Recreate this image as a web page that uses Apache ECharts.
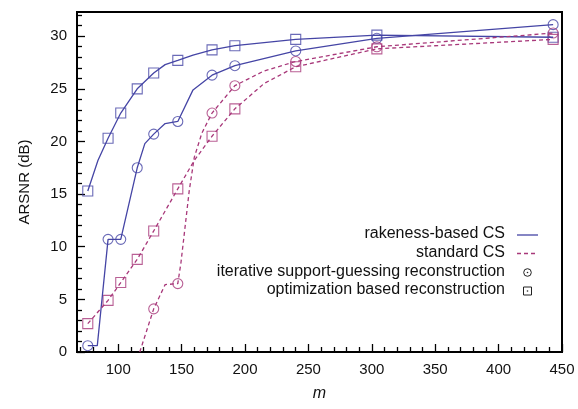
<!DOCTYPE html>
<html>
<head>
<meta charset="utf-8">
<script src="https://cdn.jsdelivr.net/npm/echarts@6/dist/echarts.min.js"></script>
<style>
  html, body { margin: 0; padding: 0; background: #fff; }
  #chart { width: 578px; height: 409px; }
</style>
</head>
<body>
<div id="chart"></div>
<script>
// tick labels
const xTicks = [100, 150, 200, 250, 300, 350, 400, 450];
const xMinorTicks = [70, 80, 90, 110, 120, 130, 140, 160, 170, 180, 190, 210, 220, 230, 240, 260, 270, 280, 290,
  310, 320, 330, 340, 360, 370, 380, 390, 410, 420, 430, 440];
const yTicks = [0, 5, 10, 15, 20, 25, 30];
const yMinorTicks = [1, 2, 3, 4, 6, 7, 8, 9, 11, 12, 13, 14, 16, 17, 18, 19, 21, 22, 23, 24, 26, 27, 28, 29, 31, 32];

// m values where markers sit
const mMarks = [76, 92, 102, 115, 128, 147, 174, 192, 240, 304, 443];
// markers
const rakOptMarks = [15.3, 20.3, 22.7, 25.0, 26.5, 27.7, 28.7, 29.1, 29.7, 30.1, 29.9];
const rakIterMarks = [0.6, 10.7, 10.7, 17.5, 20.7, 21.9, 26.3, 27.2, 28.6, 29.8, 31.1];
const stdOptMarks = [2.7, 4.9, 6.6, 8.8, 11.5, 15.5, 20.5, 23.1, 27.1, 28.8, 29.7];
const stdIterMarks = [null, null, null, null, 4.1, 6.5, 22.7, 25.3, 27.6, 29.0, 30.3];

// curves (denser than the markers)
const rakOptLine = [[76, 15.3], [84, 18.2], [92, 20.3], [102, 22.7], [115, 25.0], [128, 26.5], [137, 27.3],
  [147, 27.7], [159, 28.2], [174, 28.7], [192, 29.1], [240, 29.7], [304, 30.1], [443, 29.9]];
const rakIterLine = [[76, 0.6], [83.5, 0.6], [92, 10.7], [102, 10.7], [115, 17.5], [121, 19.8], [128, 20.7],
  [137, 21.7], [147, 21.9], [159, 24.9], [174, 26.3], [192, 27.2], [240, 28.6], [304, 29.8], [443, 31.1]];
const stdOptLine = [[76, 2.7], [92, 4.9], [102, 6.6], [115, 8.8], [128, 11.5], [147, 15.5], [160, 18.2],
  [174, 20.5], [192, 23.1], [215, 25.5], [240, 27.1], [304, 28.8], [443, 29.7]];
const stdIterLine = [[117, 0], [128, 4.1], [137, 6.4], [147, 6.5], [149.5, 8.5], [156, 15.3], [160, 18.5],
  [166, 20.8], [174, 22.7], [192, 25.3], [215, 26.7], [240, 27.6], [304, 29.0], [443, 30.3]];

const blue = '#4545a5';
const pink = '#a8387a';
const font = 'Liberation Sans, Arial, sans-serif';

function marks(vals) {
  return mMarks.map((m, i) => vals[i] == null ? null : [m, vals[i]]).filter(v => v);
}

const chart = echarts.init(document.getElementById('chart'));

// legend drawn by hand: text right-aligned, sample on the right
const legendRows = [
  { text: 'rakeness-based CS', y: 235 },
  { text: 'standard CS', y: 253.5 },
  { text: 'iterative support-guessing reconstruction', y: 272.5 },
  { text: 'optimization based reconstruction', y: 291 }
];
const graphic = legendRows.map(r => ({
  type: 'text', right: 578 - 505, top: r.y - 9,
  style: { text: r.text, font: '16px ' + font, fill: '#111', textAlign: 'right' }
}));
graphic.push(
  { type: 'line', shape: { x1: 517, y1: 235, x2: 538, y2: 235 }, style: { stroke: blue, lineWidth: 1.3 } },
  { type: 'line', shape: { x1: 517, y1: 253.5, x2: 538, y2: 253.5 }, style: { stroke: pink, lineWidth: 1.3, lineDash: [4, 3] } },
  { type: 'circle', shape: { cx: 527.5, cy: 272.5, r: 3.8 }, style: { fill: 'none', stroke: '#222', lineWidth: 1 } },
  { type: 'circle', shape: { cx: 527.5, cy: 272.5, r: 0.8 }, style: { fill: '#222' } },
  { type: 'rect', shape: { x: 523.5, y: 287, width: 8, height: 8 }, style: { fill: 'none', stroke: '#222', lineWidth: 1 } },
  { type: 'circle', shape: { cx: 527.5, cy: 291, r: 0.8 }, style: { fill: '#222' } }
);

const option = {
  animation: false,
  backgroundColor: '#fff',
  grid: {
    left: 77, right: 16, top: 12, bottom: 57,
    show: true, borderColor: '#000', borderWidth: 2
  },
  xAxis: [{
    type: 'value', min: 67.5, max: 450,
    name: 'm', nameLocation: 'middle', nameGap: 34,
    nameTextStyle: { fontFamily: font, fontSize: 16, fontStyle: 'italic', color: '#111' },
    axisLine: { lineStyle: { color: '#000', width: 2 } },
    axisTick: { inside: true, length: 8, lineStyle: { color: '#000', width: 1.3 }, customValues: xTicks },
    axisLabel: { customValues: xTicks, fontFamily: font, fontSize: 15, color: '#111', margin: 10 },
    splitLine: { show: false }
  }, {
    type: 'value', min: 67.5, max: 450, position: 'bottom',
    axisLine: { show: false },
    axisTick: { inside: true, length: 5, lineStyle: { color: '#000', width: 1.3 }, customValues: xMinorTicks },
    axisLabel: { show: false },
    splitLine: { show: false }
  }],
  yAxis: [{
    type: 'value', min: 0, max: 32.3,
    name: 'ARSNR (dB)', nameLocation: 'middle', nameGap: 45,
    nameTextStyle: { fontFamily: font, fontSize: 15, color: '#111' },
    axisLine: { lineStyle: { color: '#000', width: 2 } },
    axisTick: { inside: true, length: 8, lineStyle: { color: '#000', width: 1.3 }, customValues: yTicks },
    axisLabel: { customValues: yTicks, fontFamily: font, fontSize: 15, color: '#111', margin: 10 },
    splitLine: { show: false }
  }, {
    type: 'value', min: 0, max: 32.3, position: 'left',
    axisLine: { show: false },
    axisTick: { inside: true, length: 5, lineStyle: { color: '#000', width: 1.3 }, customValues: yMinorTicks },
    axisLabel: { show: false },
    splitLine: { show: false }
  }],
  series: [
    { type: 'line', data: rakOptLine, showSymbol: false, lineStyle: { color: blue, width: 1.3 } },
    { type: 'line', data: rakIterLine, showSymbol: false, lineStyle: { color: blue, width: 1.3 } },
    { type: 'line', data: stdOptLine, showSymbol: false, lineStyle: { color: pink, width: 1.3, type: [4, 3] } },
    { type: 'line', data: stdIterLine, showSymbol: false, lineStyle: { color: pink, width: 1.3, type: [4, 3] } },
    { type: 'scatter', data: marks(rakOptMarks), symbol: 'rect', symbolSize: 10,
      itemStyle: { color: 'rgba(0,0,0,0)', borderColor: blue, borderWidth: 1.1 } },
    { type: 'scatter', data: marks(rakIterMarks), symbol: 'circle', symbolSize: 10,
      itemStyle: { color: 'rgba(0,0,0,0)', borderColor: blue, borderWidth: 1.1 } },
    { type: 'scatter', data: marks(stdOptMarks), symbol: 'rect', symbolSize: 10,
      itemStyle: { color: 'rgba(0,0,0,0)', borderColor: pink, borderWidth: 1.1 } },
    { type: 'scatter', data: marks(stdIterMarks), symbol: 'circle', symbolSize: 10,
      itemStyle: { color: 'rgba(0,0,0,0)', borderColor: pink, borderWidth: 1.1 } }
  ],
  graphic: graphic
};
chart.setOption(option);
</script>
</body>
</html>
